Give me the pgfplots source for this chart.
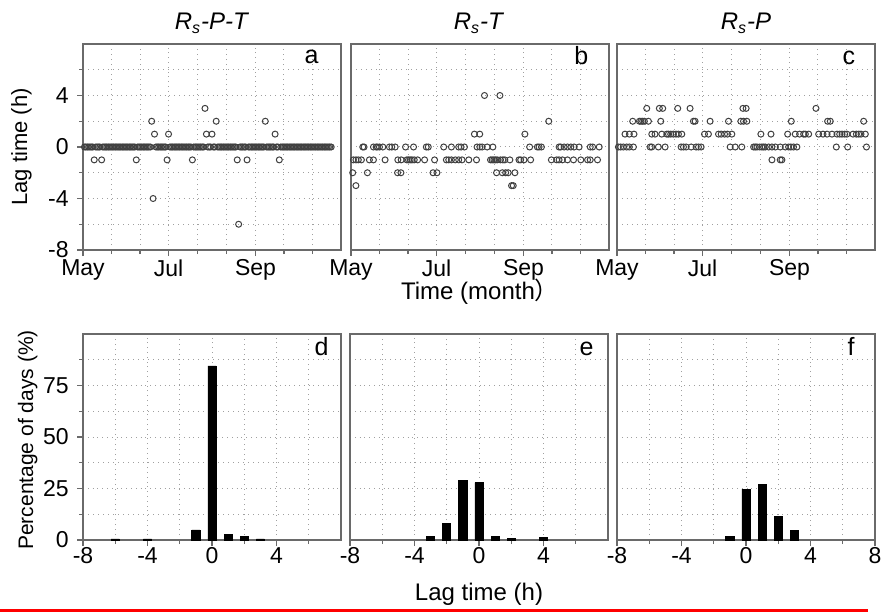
\documentclass[border=0pt]{standalone}
\usepackage{fontspec}
\setmainfont{Liberation Sans}
\newfontfamily\cjk{Noto Sans CJK SC}
\usepackage{pgfplots}
\pgfplotsset{compat=1.18}
\definecolor{frame}{HTML}{6A6A6A}
\definecolor{gridc}{HTML}{A0A0A0}
\definecolor{mk}{HTML}{404040}

\pgfplotsset{
  panel/.style={scale only axis, width=129pt, height=103pt,
    axis line style={draw=frame, line width=0.7pt},
    tick align=outside, xtick pos=left, ytick pos=left,
    major tick length=3pt, minor tick length=2pt,
    tick style={draw=frame, line width=0.6pt},
    grid=both, grid style={dotted, gridc, line width=0.5pt},
    minor grid style={dotted, gridc, line width=0.5pt},
    tick label style={font=\fontsize{11.5}{13}\selectfont},
    xticklabel style={yshift=2.5pt}},
  lagpanel/.style={panel, xmin=0, xmax=184, ymin=-8, ymax=8,
    xtick={0,61,123}, xticklabels={May,Jul,Sep},
    minor xtick={20.3,40.7,81.7,102.3,143.3,163.7},
    ytick={-8,-4,0,4}, minor ytick={-6,-2,2,6}},
  histpanel/.style={panel, xmin=-8, xmax=8, ymin=0, ymax=100,
    xtick={-8,-4,0,4}, xticklabels={-8,-4,0,4}, minor xtick={-6,-2,2,6},
    ytick={0,25,50,75}, minor ytick={12.5,37.5,62.5,87.5},
    xticklabel style={yshift=1pt}},
  noylab/.style={yticklabels={}, ytick style={draw=none}},
  dots/.style={only marks, mark=o, mark size=1.5pt, draw=mk, mark options={line width=0.5pt}},
  bars/.style={ybar, bar shift=0pt, bar width=0.5, fill=black, draw=black}
}

\begin{document}
\fontsize{12}{14}\selectfont
\begin{tikzpicture}
\useasboundingbox (0,0) rectangle (441pt,306pt);

% ---- a: Rs-P-T lag time
\begin{axis}[lagpanel, at={(41.5pt,181pt)}, anchor=south west, yticklabels={-8,-4,0,4}]
\addplot[dots] coordinates {
 (1,0)(2,0)(3,0)(4,0)(5,0)(6,0)(7,0)(9,0)(10,0)(11,0)(12,0)
 (14,0)(15,0)(16,0)(17,0)(18,0)(19,0)(20,0)(21,0)(22,0)(23,0)(24,0)(25,0)
 (26,0)(27,0)(28,0)(29,0)(30,0)(31,0)(32,0)(33,0)(34,0)(35,0)(36,0)(37,0)
 (39,0)(40,0)(41,0)(42,0)(43,0)(44,0)(45,0)(46,0)(47,0)(48,0)
 (52,0)(53,0)(54,0)(55,0)(56,0)(57,0)(58,0)(59,0)
 (62,0)(63,0)(64,0)(65,0)(66,0)(67,0)(68,0)(69,0)(70,0)(71,0)(72,0)(73,0)
 (74,0)(75,0)(76,0)(77,0)(79,0)(80,0)(81,0)(82,0)(83,0)(84,0)(85,0)(86,0)
 (89,0)(90,0)(91,0)(93,0)(94,0)
 (96,0)(97,0)(98,0)(99,0)(100,0)(101,0)(102,0)(103,0)(104,0)(105,0)(106,0)
 (107,0)(108,0)(109,0)(112,0)(113,0)(114,0)(115,0)(116,0)
 (118,0)(119,0)(120,0)(121,0)(122,0)(123,0)(124,0)(125,0)(126,0)(127,0)(128,0)(129,0)
 (131,0)(132,0)(133,0)(134,0)(135,0)(136,0)(138,0)(139,0)
 (141,0)(142,0)(143,0)(144,0)(145,0)(146,0)(147,0)(148,0)(149,0)(150,0)(151,0)
 (152,0)(153,0)(154,0)(155,0)(156,0)(157,0)(158,0)(159,0)(160,0)(161,0)(162,0)
 (163,0)(164,0)(165,0)(166,0)(167,0)(168,0)(169,0)(170,0)(171,0)(172,0)(173,0)
 (174,0)(175,0)(176,0)(177,0)
 (8,-1)(13.3,-1)(38,-1)(60,-1)(78,-1)(110,-1)(117,-1)(140,-1)
 (49,2)(95,2)(130,2)
 (51,1)(61,1)(88,1)(92,1)(137,1)
 (87,3)(50,-4)(111,-6)
};
\end{axis}

% ---- b: Rs-T lag time
\begin{axis}[lagpanel, noylab, at={(175.5pt,181pt)}, anchor=south west]
\addplot[dots] coordinates {
 (95.2,4)(106.2,4)(141,2)(88,1)(91.8,1)(124,1)
 (8.4,0)(9.3,0)(16,0)(17.9,0)(18.8,0)(20.3,0)(22.7,0)(27.4,0)(29.1,0)(31.5,0)
 (38.9,0)(44.6,0)(53.7,0)(55.1,0)(66.1,0)(71.6,0)(76.8,0)(78.5,0)(80.9,0)
 (89.9,0)(91.9,0)(93.5,0)(97.1,0)(101.2,0)(127.4,0)(132.9,0)(134.1,0)(135.8,0)
 (148.4,0)(149.6,0)(152,0)(154.4,0)(156.8,0)(159.1,0)(162.7,0)(170.6,0)(172.3,0)(177,0)
 (1.7,-1)(3.5,-1)(5.2,-1)(7.4,-1)(13.1,-1)(16,-1)(24.3,-1)(33.4,-1)(35.8,-1)
 (39.8,-1)(41,-1)(42.2,-1)(43.4,-1)(45.1,-1)(47.5,-1)(52.5,-1)(59.6,-1)(68,-1)
 (69.7,-1)(71.6,-1)(74.4,-1)(76.8,-1)(79.2,-1)(84,-1)(89.5,-1)(99.5,-1)(100.7,-1)
 (101.9,-1)(103.1,-1)(104.3,-1)(106.6,-1)(108.3,-1)(109.7,-1)(113.3,-1)(119.8,-1)
 (121,-1)(123.4,-1)(128.1,-1)(142.9,-1)(146.7,-1)(148.4,-1)(150.8,-1)(154.4,-1)
 (158.7,-1)(163.9,-1)(168.7,-1)(170.6,-1)(175.8,-1)
 (1.2,-2)(11.7,-2)(33.2,-2)(35.6,-2)(58.5,-2)(61.3,-2)(103.8,-2)(107.9,-2)
 (110.3,-2)(112.1,-2)(116.9,-2)
 (3.5,-3)(114.5,-3)(115.7,-3)
};
\end{axis}

% ---- c: Rs-P lag time
\begin{axis}[lagpanel, noylab, at={(308.5pt,181pt)}, anchor=south west]
\addplot[dots] coordinates {
 (21.2,3)(30.2,3)(32.6,3)(43.3,3)(52.1,3)(89.8,3)(92.1,3)(141.9,3)
 (11.2,2)(16,2)(17.1,2)(18.3,2)(19.5,2)(22.4,2)(31.2,2)(54.5,2)(55.7,2)(66.4,2)
 (79.5,2)(88.3,2)(90.2,2)(92.6,2)(124.3,2)(150.2,2)(152.1,2)(175.9,2)
 (5.7,1)(8.8,1)(12.1,1)(24.8,1)(27.1,1)(31.9,1)(35.5,1)(36.7,1)(38.3,1)(40.2,1)
 (42.1,1)(43.8,1)(46.2,1)(62.4,1)(65.2,1)(72.4,1)(74.3,1)(76.7,1)(78.8,1)(81.9,1)
 (102.6,1)(109.8,1)(121.7,1)(127.1,1)(130.2,1)(133.1,1)(134.3,1)(136.7,1)(143.8,1)
 (146.9,1)(149.8,1)(153.3,1)(156.9,1)(158.8,1)(160.5,1)(162.4,1)(164,1)(168.3,1)
 (170.7,1)(172.4,1)(174,1)(177.1,1)
 (1,0)(2.6,0)(4.5,0)(6.9,0)(8.8,0)(11.7,0)(23.6,0)(24.8,0)(29.5,0)(34.3,0)
 (45.7,0)(47.4,0)(49.3,0)(52.9,0)(56.4,0)(58.1,0)(60,0)(80.7,0)(84.3,0)(89,0)
 (97.4,0)(98.6,0)(99.8,0)(101.7,0)(103.3,0)(104.5,0)(105.7,0)(108.1,0)(110.5,0)
 (112.9,0)(116.4,0)(120,0)(122.4,0)(124,0)(125.9,0)(128.3,0)(156.4,0)(164.5,0)(177.9,0)
 (110.5,-1)(116.4,-1)(117.6,-1)
};
\end{axis}

% ---- d: Rs-P-T histogram
\begin{axis}[histpanel, at={(41.5pt,36pt)}, anchor=south west, yticklabels={0,25,50,75}]
\addplot[bars] coordinates {(-6,0.5)(-4,0.5)(-1,4.9)(0,84.5)(1,2.7)(2,1.6)(3,0.5)};
\end{axis}

% ---- e: Rs-T histogram
\begin{axis}[histpanel, noylab, at={(175pt,36pt)}, anchor=south west]
\addplot[bars] coordinates {(-3,1.6)(-2,7.9)(-1,28.9)(0,27.9)(1,1.6)(2,0.6)(4,1.1)};
\end{axis}

% ---- f: Rs-P histogram
\begin{axis}[histpanel, noylab, at={(308.5pt,36pt)}, anchor=south west,
  xtick={-8,-4,0,4,8}, xticklabels={-8,-4,0,4,8}]
\addplot[bars] coordinates {(-1,1.6)(0,24.7)(1,26.8)(2,11.4)(3,4.7)};
\end{axis}

% titles, panel letters and shared labels
\node[anchor=base] at (106pt,291pt) {\textit{R\textsubscript{s}-P-T}};
\node[anchor=base] at (239.5pt,291pt) {\textit{R\textsubscript{s}-T}};
\node[anchor=base] at (373pt,291pt) {\textit{R\textsubscript{s}-P}};
\begin{scope}[every node/.style={anchor=base east, font=\fontsize{12.5}{14}\selectfont}]
\node at (163.5pt,274.4pt) {a};
\node at (298.3pt,273.5pt) {b};
\node at (431.7pt,273.5pt) {c};
\node at (168.5pt,128.5pt) {d};
\node at (301pt,128.5pt) {e};
\node at (431.5pt,128.5pt) {f};
\end{scope}
\node[rotate=90, anchor=base, font=\fontsize{11}{13}\selectfont] at (13.5pt,232.5pt) {Lag time (h)};
\node[rotate=90, anchor=base, font=\fontsize{10.5}{12}\selectfont] at (16.5pt,86pt) {Percentage of days (\%)};
\node[anchor=base, inner sep=1pt] at (240pt,156.5pt) {Time (month{\cjk ）}};
\node[anchor=base] at (239.5pt,6pt) {Lag time (h)};
\draw[red, line width=1.5pt] (0,0.75pt) -- (434pt,0.75pt);
\end{tikzpicture}
\end{document}
